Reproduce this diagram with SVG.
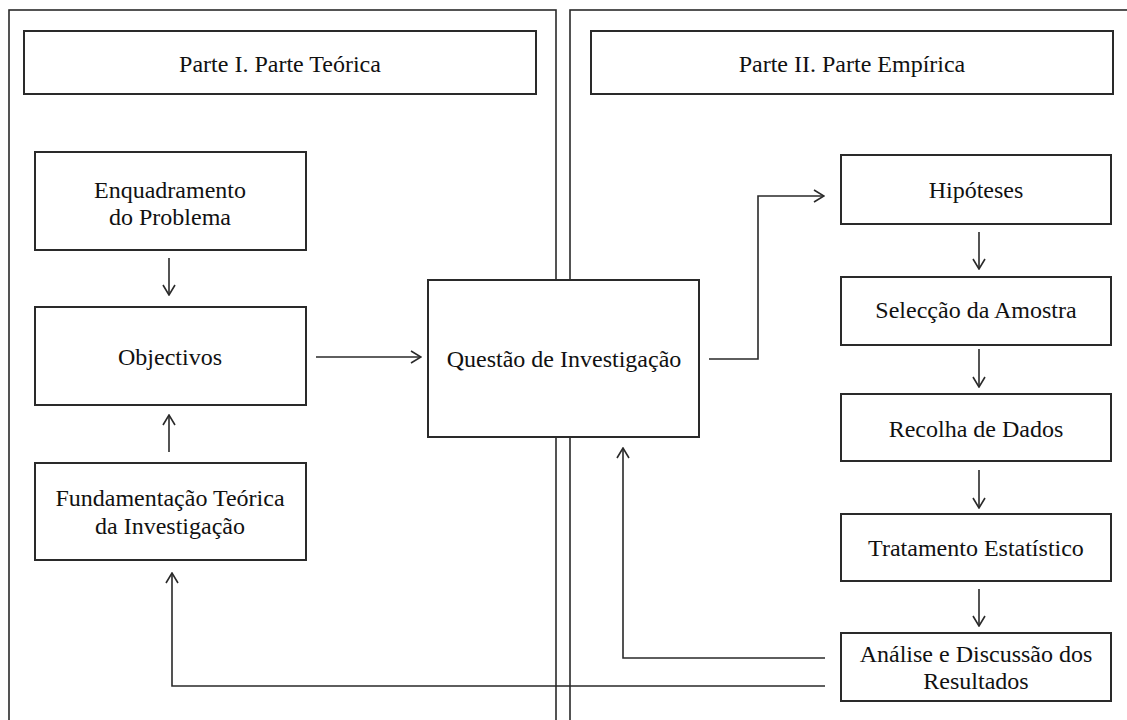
<svg xmlns="http://www.w3.org/2000/svg" width="1127" height="720" viewBox="0 0 1127 720">
  <style>
    .panel { fill: none; stroke: #2a2a2a; stroke-width: 1.6; }
    .box { fill: #ffffff; stroke: #2a2a2a; stroke-width: 2; }
    .lbl { font-family: "Liberation Serif", "Times New Roman", serif; font-size: 24px; fill: #111111; text-anchor: middle; }
    .wire { fill: none; stroke: #2a2a2a; stroke-width: 1.6; }
  </style>
  <defs>
    <marker id="chev" viewBox="0 0 12 14" refX="11" refY="7" markerWidth="12" markerHeight="14" markerUnits="userSpaceOnUse" orient="auto">
      <path d="M1,1 L11,7 L1,13" fill="none" stroke="#2a2a2a" stroke-width="1.6"/>
    </marker>
  </defs>

  <rect width="1127" height="720" fill="#ffffff"/>

  <!-- two section frames, open at the bottom / right edge -->
  <g id="panels">
    <rect class="panel" x="9" y="10" width="547" height="740"/>
    <rect class="panel" x="570" y="10" width="580" height="740"/>
  </g>

  <!-- connectors -->
  <g id="connectors">
    <line class="wire" x1="169" y1="258" x2="169" y2="295" marker-end="url(#chev)"/>
    <line class="wire" x1="169" y1="452" x2="169" y2="415" marker-end="url(#chev)"/>
    <line class="wire" x1="316" y1="357" x2="421" y2="357" marker-end="url(#chev)"/>
    <polyline class="wire" points="709,359 758,359 758,196 824,196" marker-end="url(#chev)"/>
    <line class="wire" x1="979" y1="232" x2="979" y2="269" marker-end="url(#chev)"/>
    <line class="wire" x1="979" y1="349" x2="979" y2="387" marker-end="url(#chev)"/>
    <line class="wire" x1="979" y1="470" x2="979" y2="508" marker-end="url(#chev)"/>
    <line class="wire" x1="979" y1="589" x2="979" y2="626" marker-end="url(#chev)"/>
    <polyline class="wire" points="825,658 623,658 623,448" marker-end="url(#chev)"/>
    <polyline class="wire" points="825,686 172,686 172,573" marker-end="url(#chev)"/>
  </g>

  <!-- section titles -->
  <g id="title-teorica">
    <rect class="box" x="24" y="31" width="512" height="63"/>
    <text class="lbl" x="280" y="72">Parte I. Parte Teórica</text>
  </g>
  <g id="title-empirica">
    <rect class="box" x="591" y="31" width="522" height="63"/>
    <text class="lbl" x="852" y="72">Parte II. Parte Empírica</text>
  </g>

  <!-- left column -->
  <g id="enquadramento">
    <rect class="box" x="35" y="152" width="271" height="98"/>
    <text class="lbl" x="170" y="198">Enquadramento</text>
    <text class="lbl" x="170" y="225">do Problema</text>
  </g>
  <g id="objectivos">
    <rect class="box" x="35" y="307" width="271" height="98"/>
    <text class="lbl" x="170" y="365">Objectivos</text>
  </g>
  <g id="fundamentacao">
    <rect class="box" x="35" y="463" width="271" height="97"/>
    <text class="lbl" x="170" y="506">Fundamentação Teórica</text>
    <text class="lbl" x="170" y="534">da Investigação</text>
  </g>

  <!-- centre -->
  <g id="questao">
    <rect class="box" x="428" y="280" width="271" height="157"/>
    <text class="lbl" x="564" y="367">Questão de Investigação</text>
  </g>

  <!-- right column -->
  <g id="hipoteses">
    <rect class="box" x="841" y="155" width="270" height="69"/>
    <text class="lbl" x="976" y="198">Hipóteses</text>
  </g>
  <g id="seleccao">
    <rect class="box" x="841" y="277" width="270" height="68"/>
    <text class="lbl" x="976" y="318">Selecção da Amostra</text>
  </g>
  <g id="recolha">
    <rect class="box" x="841" y="394" width="270" height="67"/>
    <text class="lbl" x="976" y="437">Recolha de Dados</text>
  </g>
  <g id="tratamento">
    <rect class="box" x="841" y="514" width="270" height="67"/>
    <text class="lbl" x="976" y="556">Tratamento Estatístico</text>
  </g>
  <g id="analise">
    <rect class="box" x="841" y="633" width="270" height="68"/>
    <text class="lbl" x="976" y="662">Análise e Discussão dos</text>
    <text class="lbl" x="976" y="689">Resultados</text>
  </g>
</svg>
